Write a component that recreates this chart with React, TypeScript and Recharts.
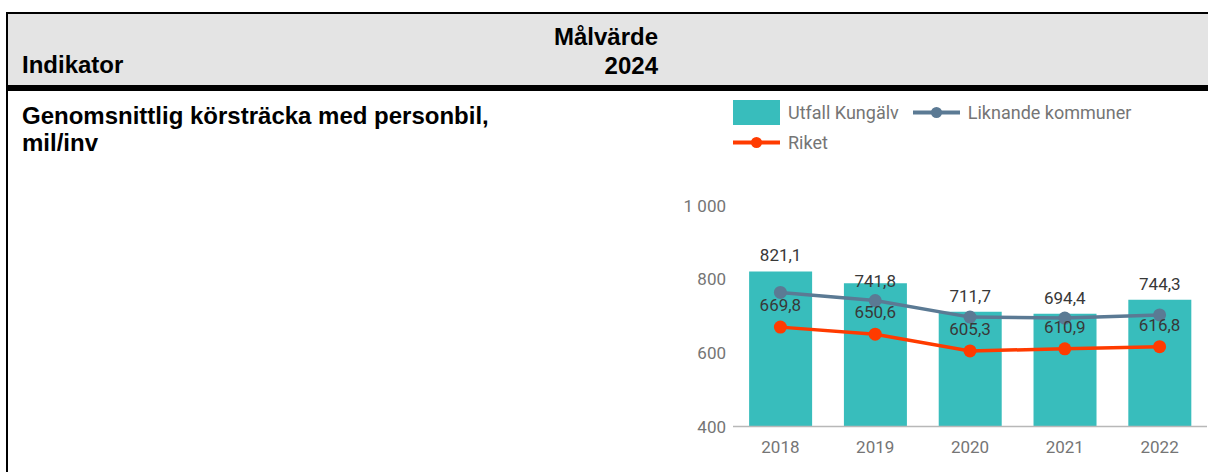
import React from "react";
import {
  ComposedChart,
  Bar,
  Line,
  XAxis,
  YAxis,
  Legend,
  LabelList,
} from "recharts";

// data
const years = ["2018", "2019", "2020", "2021", "2022"];
const utfallKungalv = [821.1, 789.0, 711.7, 706.0, 744.3];
const liknandeKommuner = [764.0, 741.8, 697.0, 694.4, 703.0];
const riket = [669.8, 650.6, 605.3, 610.9, 616.8];

// which value labels are visible (the rest are hidden in the reference)
const utfallLabelShown = [true, false, true, false, true];
const liknandeLabelShown = [false, true, false, true, false];
const riketLabelShown = [true, true, true, true, true];

const seriesOrder = ["Utfall Kungälv", "Liknande kommuner", "Riket"];
const yTicks = [400, 600, 800, 1000];

const TEAL = "#38bdbc";
const SLATE = "#5b7a94";
const RED = "#ff3b00";
const AXIS_TEXT = "#757575";
const LABEL_TEXT = "#383838";
const FONT = "Roboto, 'Noto Sans', sans-serif";
const HEAD_FONT = "'Liberation Sans', Arial, sans-serif";

const data = years.map((year, i) => ({
  year,
  utfall: utfallKungalv[i],
  liknande: liknandeKommuner[i],
  riket: riket[i],
}));

const fmtDec = (v: number) => v.toFixed(1).replace(".", ",");
const fmtThousands = (v: number) =>
  String(v).replace(/\B(?=(\d{3})+(?!\d))/g, " ");

function valueLabel(shown: boolean[], offset: number) {
  return (props: any) => {
    const { index, value } = props;
    if (!shown[index]) return null;
    const vb = props.viewBox ?? {};
    const x0 = Number(props.x ?? vb.x);
    const y0 = Number(props.y ?? vb.y);
    const w = Number(props.width ?? vb.width ?? 0);
    return (
      <text
        x={x0 + w / 2}
        y={y0 - offset}
        textAnchor="middle"
        fontFamily={FONT}
        fontSize={17}
        fill={LABEL_TEXT}
      >
        {fmtDec(Number(value))}
      </text>
    );
  };
}

const LegendContent = ({ payload }: any) => {
  const items = [...(payload ?? [])].sort(
    (a: any, b: any) => seriesOrder.indexOf(a.value) - seriesOrder.indexOf(b.value)
  );
  return (
    <div
      style={{
        display: "flex",
        flexWrap: "wrap",
        width: 420,
        rowGap: 5,
        fontFamily: FONT,
        fontSize: 18,
        color: AXIS_TEXT,
      }}
    >
      {items.map((entry: any) => (
        <div
          key={entry.value}
          style={{ display: "flex", alignItems: "center", height: 25, marginRight: 14 }}
        >
          <svg width={47} height={25} style={{ marginRight: 8 }}>
            {entry.type === "rect" ? (
              <rect x={0} y={0} width={47} height={25} fill={entry.color} />
            ) : (
              <g>
                <line x1={0} x2={47} y1={12.5} y2={12.5} stroke={entry.color} strokeWidth={4} />
                <circle cx={23.5} cy={12.5} r={5.5} fill={entry.color} />
              </g>
            )}
          </svg>
          <span>{entry.value}</span>
        </div>
      ))}
    </div>
  );
};

export default function App() {
  return (
    <div
      style={{
        position: "absolute",
        left: 0,
        top: 0,
        width: 1208,
        height: 472,
        background: "#fff",
        overflow: "hidden",
      }}
    >
      {/* table frame */}
      <div style={{ position: "absolute", left: 6, top: 12, width: 1202, height: 2, background: "#000" }} />
      <div style={{ position: "absolute", left: 6, top: 12, width: 2, height: 460, background: "#000" }} />
      <div style={{ position: "absolute", left: 8, top: 14, width: 1200, height: 71, background: "#e4e4e4" }} />
      <div style={{ position: "absolute", left: 6, top: 85, width: 1202, height: 6, background: "#000" }} />

      {/* header */}
      <div
        style={{
          position: "absolute",
          left: 22,
          top: 51,
          fontFamily: HEAD_FONT,
          fontWeight: "bold",
          fontSize: 24,
          lineHeight: "27px",
        }}
      >
        Indikator
      </div>
      <div
        style={{
          position: "absolute",
          right: 1208 - 658,
          top: 22,
          textAlign: "right",
          fontFamily: HEAD_FONT,
          fontWeight: "bold",
          fontSize: 24,
          lineHeight: "29px",
        }}
      >
        Målvärde
        <br />
        2024
      </div>

      {/* row */}
      <div
        style={{
          position: "absolute",
          left: 22,
          top: 102,
          width: 520,
          fontFamily: HEAD_FONT,
          fontWeight: "bold",
          fontSize: 24,
          lineHeight: "27px",
        }}
      >
        Genomsnittlig körsträcka med personbil,
        <br />
        mil/inv
      </div>

      <div style={{ position: "absolute", left: 663, top: 92 }}>
        <ComposedChart
          width={545}
          height={380}
          data={data}
          margin={{ top: 113.5, right: 1, bottom: 15.5, left: 0 }}
          barCategoryGap="17%"
        >
          <XAxis
            dataKey="year"
            height={30}
            tickLine={false}
            tickSize={0}
            tickMargin={14}
            axisLine={{ stroke: "#b8b8b8", strokeWidth: 1.5 }}
            tick={{ fill: AXIS_TEXT, fontSize: 17, fontFamily: FONT }}
          />
          <YAxis
            width={70}
            domain={[400, 1000]}
            ticks={yTicks}
            allowDataOverflow
            axisLine={false}
            tickLine={false}
            tickSize={0}
            tickMargin={7}
            tickFormatter={fmtThousands}
            tick={{ fill: AXIS_TEXT, fontSize: 17, fontFamily: FONT }}
          />
          <Legend
            verticalAlign="middle"
            align="center"
            layout="horizontal"
            wrapperStyle={{ top: 8, left: 70, width: 420, height: 56 }}
            content={<LegendContent />}
          />
          <Bar
            dataKey="utfall"
            name="Utfall Kungälv"
            fill={TEAL}
            legendType="rect"
            isAnimationActive={false}
          >
            <LabelList dataKey="utfall" content={valueLabel(utfallLabelShown, 10)} />
          </Bar>
          <Line
            dataKey="liknande"
            name="Liknande kommuner"
            stroke={SLATE}
            strokeWidth={3.5}
            dot={{ r: 6.5, fill: SLATE, stroke: SLATE, strokeWidth: 0 }}
            activeDot={false}
            legendType="line"
            isAnimationActive={false}
          >
            <LabelList dataKey="liknande" content={valueLabel(liknandeLabelShown, 14)} />
          </Line>
          <Line
            dataKey="riket"
            name="Riket"
            stroke={RED}
            strokeWidth={3.5}
            dot={{ r: 6.5, fill: RED, stroke: RED, strokeWidth: 0 }}
            activeDot={false}
            legendType="line"
            isAnimationActive={false}
          >
            <LabelList dataKey="riket" content={valueLabel(riketLabelShown, 16)} />
          </Line>
        </ComposedChart>
      </div>
    </div>
  );
}
